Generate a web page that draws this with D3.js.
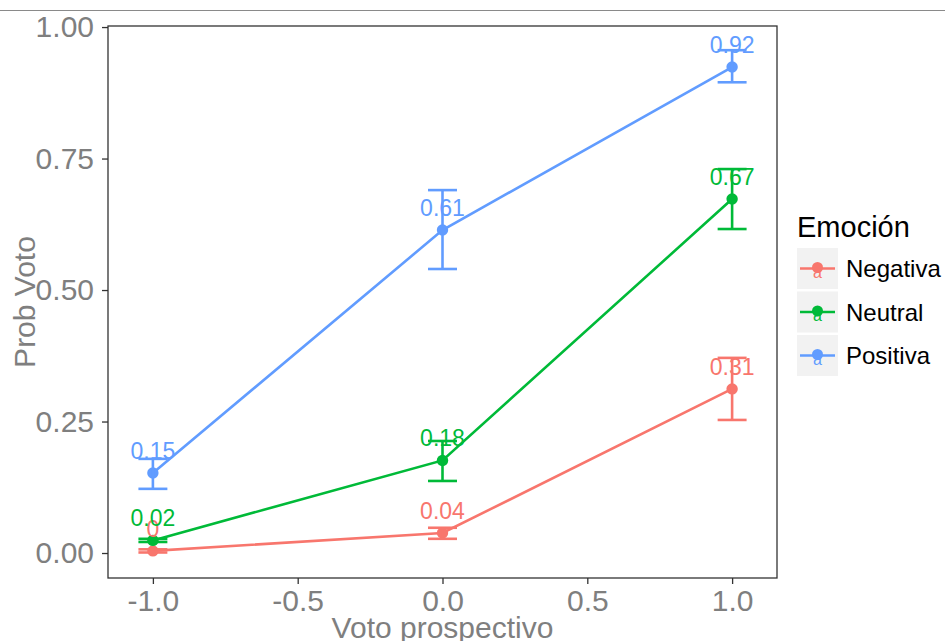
<!DOCTYPE html>
<html>
<head>
<meta charset="utf-8">
<script src="https://cdn.jsdelivr.net/npm/d3@7"></script>
<style>
  body { margin: 0; background: #fff; }
  text { font-family: "Liberation Sans", Arial, sans-serif; }
</style>
</head>
<body>
<script>
// data
const xVals = [-1, 0, 1];
const emociones = ["Negativa", "Neutral", "Positiva"];
const colores = ["#F8766D", "#00BA38", "#619CFF"];

const negMean = [0.004, 0.038, 0.312];
const negLow  = [0.001, 0.027, 0.253];
const negHigh = [0.007, 0.048, 0.371];

const neuMean = [0.024, 0.176, 0.673];
const neuLow  = [0.021, 0.137, 0.616];
const neuHigh = [0.027, 0.213, 0.730];

const posMean = [0.152, 0.614, 0.924];
const posLow  = [0.122, 0.540, 0.895];
const posHigh = [0.179, 0.690, 0.956];

const xTicks = [-1.0, -0.5, 0.0, 0.5, 1.0];
const yTicks = [0.00, 0.25, 0.50, 0.75, 1.00];

const series = [
  {name: emociones[0], mean: negMean, low: negLow, high: negHigh},
  {name: emociones[1], mean: neuMean, low: neuLow, high: neuHigh},
  {name: emociones[2], mean: posMean, low: posLow, high: posHigh}
].map((s, i) => ({
  ...s,
  color: colores[i],
  pts: xVals.map((x, j) => ({x: x, y: s.mean[j], lo: s.low[j], hi: s.high[j]}))
}));

const width = 945, height = 641;
const panel = {left: 108, right: 777, top: 26, bottom: 578};

const svg = d3.select("body").append("svg")
  .attr("width", width)
  .attr("height", height);

// thin grey line at the very top
svg.append("line")
  .attr("x1", 0).attr("x2", width)
  .attr("y1", 10.5).attr("y2", 10.5)
  .attr("stroke", "#8a8a8a")
  .attr("stroke-width", 1.2);

const x = d3.scaleLinear().domain([-1.155, 1.155]).range([panel.left, panel.right]);
const y = d3.scaleLinear().domain([-0.0475, 1.002]).range([panel.bottom, panel.top]);

// axes
const xAxis = d3.axisBottom(x).tickValues(xTicks).tickFormat(d3.format(".1f")).tickSize(6).tickPadding(6);
const yAxis = d3.axisLeft(y).tickValues(yTicks).tickFormat(d3.format(".2f")).tickSize(6).tickPadding(8);

const gx = svg.append("g")
  .attr("transform", `translate(0,${panel.bottom})`)
  .call(xAxis);
const gy = svg.append("g")
  .attr("transform", `translate(${panel.left},0)`)
  .call(yAxis);

[gx, gy].forEach(g => {
  g.select(".domain").remove();
  g.selectAll(".tick line").attr("stroke", "#333").attr("stroke-width", 1.3);
  g.selectAll(".tick text")
    .attr("fill", "#7f7f7f")
    .style("font-size", "30px")
    .style("font-family", "'Liberation Sans', Arial, sans-serif");
});
gx.selectAll(".tick text").text(d => d3.format(".1f")(d).replace("−", "-"));

// panel border
svg.append("rect")
  .attr("x", panel.left).attr("y", panel.top)
  .attr("width", panel.right - panel.left)
  .attr("height", panel.bottom - panel.top)
  .attr("fill", "none")
  .attr("stroke", "#333")
  .attr("stroke-width", 1.3);

// axis titles
svg.append("text")
  .attr("x", (panel.left + panel.right) / 2)
  .attr("y", 638)
  .attr("text-anchor", "middle")
  .attr("fill", "#7f7f7f")
  .style("font-size", "30px")
  .text("Voto prospectivo");

svg.append("text")
  .attr("transform", `translate(35,${(panel.top + panel.bottom) / 2}) rotate(-90)`)
  .attr("text-anchor", "middle")
  .attr("fill", "#7f7f7f")
  .style("font-size", "30px")
  .text("Prob Voto");

const plot = svg.append("g");
const line = d3.line().x(d => x(d.x)).y(d => y(d.y));
const capHalf = 0.05;

// lines
plot.selectAll(".serie")
  .data(series)
  .enter()
  .append("path")
  .attr("d", d => line(d.pts))
  .attr("fill", "none")
  .attr("stroke", d => d.color)
  .attr("stroke-width", 2.6);

// points
series.forEach(s => {
  plot.selectAll(null)
    .data(s.pts)
    .enter()
    .append("circle")
    .attr("cx", d => x(d.x))
    .attr("cy", d => y(d.y))
    .attr("r", 5.7)
    .attr("fill", s.color);
});

// error bars
series.forEach(s => {
  const eb = plot.selectAll(null)
    .data(s.pts)
    .enter()
    .append("g")
    .attr("stroke", s.color)
    .attr("stroke-width", 2.6)
    .attr("fill", "none");
  eb.append("line")
    .attr("x1", d => x(d.x)).attr("x2", d => x(d.x))
    .attr("y1", d => y(d.lo)).attr("y2", d => y(d.hi));
  eb.append("line")
    .attr("x1", d => x(d.x - capHalf)).attr("x2", d => x(d.x + capHalf))
    .attr("y1", d => y(d.lo)).attr("y2", d => y(d.lo));
  eb.append("line")
    .attr("x1", d => x(d.x - capHalf)).attr("x2", d => x(d.x + capHalf))
    .attr("y1", d => y(d.hi)).attr("y2", d => y(d.hi));
});

// value labels
series.forEach(s => {
  plot.selectAll(null)
    .data(s.pts)
    .enter()
    .append("text")
    .attr("x", d => x(d.x))
    .attr("y", d => y(d.y) - 14)
    .attr("text-anchor", "middle")
    .attr("fill", s.color)
    .style("font-size", "23px")
    .text(d => String(Math.round(d.y * 100) / 100));
});

// legend
const lg = svg.append("g").attr("transform", "translate(797,0)");
lg.append("text")
  .attr("x", 0).attr("y", 237)
  .attr("fill", "#000")
  .style("font-size", "29px")
  .text("Emoción");

const keySize = 41, keyStep = 43.5, keyTop = 248;
const keys = lg.selectAll(".key")
  .data(series)
  .enter()
  .append("g")
  .attr("transform", (d, i) => `translate(0,${keyTop + i * keyStep})`);

keys.append("rect")
  .attr("width", keySize).attr("height", keySize)
  .attr("fill", "#f2f2f2");
keys.append("line")
  .attr("x1", 3).attr("x2", keySize - 3)
  .attr("y1", keySize / 2).attr("y2", keySize / 2)
  .attr("stroke", d => d.color)
  .attr("stroke-width", 2.6);
keys.append("circle")
  .attr("cx", keySize / 2).attr("cy", keySize / 2 - 1)
  .attr("r", 5.5)
  .attr("fill", d => d.color);
keys.append("text")
  .attr("x", keySize / 2).attr("y", keySize / 2 + 9)
  .attr("text-anchor", "middle")
  .attr("fill", d => d.color)
  .style("font-size", "16px")
  .text("a");
keys.append("text")
  .attr("x", 49).attr("y", keySize / 2)
  .attr("dy", "0.36em")
  .attr("fill", "#000")
  .style("font-size", "24px")
  .text(d => d.name);
</script>
</body>
</html>
